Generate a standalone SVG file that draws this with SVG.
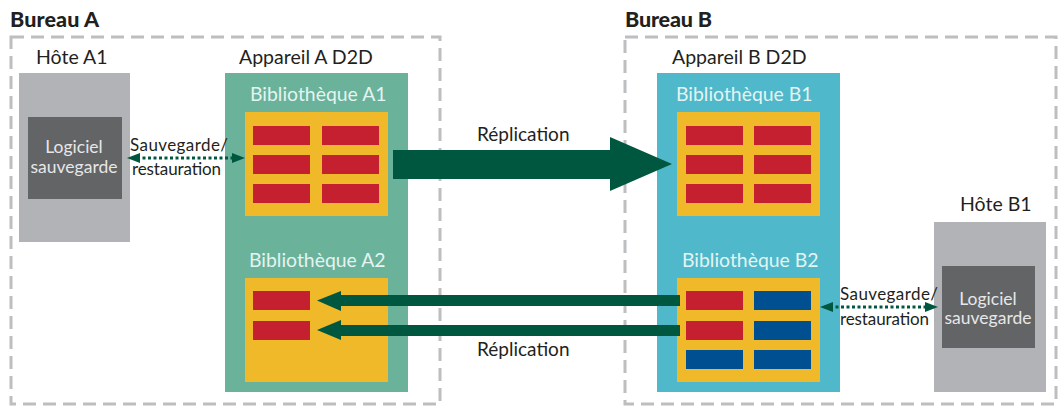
<svg xmlns="http://www.w3.org/2000/svg" width="1059" height="407" viewBox="0 0 1059 407">
<style>
text{font-family:"Lato","Liberation Sans",sans-serif}
.office{fill:none;stroke:#bcbec0;stroke-width:3;stroke-dasharray:13 7}
.title{font-size:21.5px;font-weight:900;fill:#231f20}
.lbl{font-size:19.5px;fill:#231f20}
.lib{font-size:19.4px;fill:#e4f4f1}
.sw{font-size:17.5px;fill:#e6e7e8;text-anchor:middle}
.cap{font-size:17px;fill:#231f20}
.rep{font-size:19px;fill:#231f20}
.host{fill:#b1b3b6}.soft{fill:#636466}
.green{fill:#6ab29a}.blue{fill:#4fb8cb}.y{fill:#f0b929}.r{fill:#c4202f}.b{fill:#004f90}
.arrow{fill:#00573f}
.dot{stroke:#00573f;stroke-width:3;stroke-dasharray:3 2.5;fill:none}
</style>
<g id="office-a"><rect class="office" x="11" y="37" width="429" height="367"/><text class="title" x="10" y="27" textLength="89">Bureau A</text></g>
<g id="office-b"><rect class="office" x="625" y="37" width="431" height="367"/><text class="title" x="625" y="27" textLength="87">Bureau B</text></g>
<g id="host-a1"><text class="lbl" x="36" y="64">Hôte A1</text><rect class="host" x="19" y="73" width="111" height="169"/><rect class="soft" x="28" y="117" width="94" height="82"/><text class="sw" x="74" y="153">Logiciel</text><text class="sw" x="74" y="173">sauvegarde</text></g>
<g id="device-a"><text class="lbl" x="239" y="64">Appareil A D2D</text><rect class="green" x="225" y="73" width="183" height="319"/></g>
<g id="library-a1"><text class="lib" x="250" y="101">Bibliothèque A1</text><rect class="y" x="245" y="112" width="143" height="104"/>
<rect class="r" x="253" y="126" width="57" height="19"/><rect class="r" x="322" y="126" width="57" height="19"/><rect class="r" x="253" y="155" width="57" height="19"/><rect class="r" x="322" y="155" width="57" height="19"/><rect class="r" x="253" y="184" width="57" height="19"/><rect class="r" x="322" y="184" width="57" height="19"/></g>
<g id="library-a2"><text class="lib" x="249" y="267">Bibliothèque A2</text><rect class="y" x="245" y="278" width="143" height="104"/>
<rect class="r" x="253" y="291" width="57" height="19"/><rect class="r" x="253" y="321" width="57" height="19"/></g>
<g id="device-b"><text class="lbl" x="672" y="64">Appareil B D2D</text><rect class="blue" x="657" y="73" width="183" height="319"/></g>
<g id="library-b1"><text class="lib" x="676" y="101">Bibliothèque B1</text><rect class="y" x="677" y="112" width="143" height="104"/>
<rect class="r" x="686" y="126" width="57" height="19"/><rect class="r" x="754" y="126" width="57" height="19"/><rect class="r" x="686" y="155" width="57" height="19"/><rect class="r" x="754" y="155" width="57" height="19"/><rect class="r" x="686" y="184" width="57" height="19"/><rect class="r" x="754" y="184" width="57" height="19"/></g>
<g id="library-b2"><text class="lib" x="682" y="267">Bibliothèque B2</text><rect class="y" x="677" y="278" width="143" height="104"/>
<rect class="r" x="686" y="291" width="57" height="19"/><rect class="b" x="754" y="291" width="57" height="19"/><rect class="r" x="686" y="321" width="57" height="19"/><rect class="b" x="754" y="321" width="57" height="19"/><rect class="b" x="686" y="350" width="57" height="19"/><rect class="b" x="754" y="350" width="57" height="19"/></g>
<g id="host-b1"><text class="lbl" x="960" y="211">Hôte B1</text><rect class="host" x="934" y="222" width="112" height="170"/><rect class="soft" x="942" y="266" width="93" height="82"/><text class="sw" x="988" y="305">Logiciel</text><text class="sw" x="988" y="324">sauvegarde</text></g>
<g id="connectors">
<path class="arrow" d="M393 150H610V137L672 164L610 191V179H393Z"/>
<path class="arrow" d="M680 295H341V291L317 300.5L341 311V306H680Z"/>
<path class="arrow" d="M680 325H341V320L317 330L341 340V336H680Z"/>
<path class="dot" d="M137 158H235"/>
<path class="arrow" d="M127 158L140 153V163Z"/><path class="arrow" d="M245 158L232 153V163Z"/>
<path class="dot" d="M830 307H928"/>
<path class="arrow" d="M820 307L833 302V312Z"/><path class="arrow" d="M938 307L925 302V312Z"/>
</g>
<g id="labels">
<text class="rep" x="477" y="141">Réplication</text>
<text class="rep" x="477" y="356">Réplication</text>
<text class="cap" x="130" y="151" textLength="98">Sauvegarde/</text><text class="cap" x="132" y="175" textLength="89">restauration</text>
<text class="cap" x="840" y="300" textLength="98">Sauvegarde/</text><text class="cap" x="840" y="325" textLength="89">restauration</text>
</g>
</svg>
